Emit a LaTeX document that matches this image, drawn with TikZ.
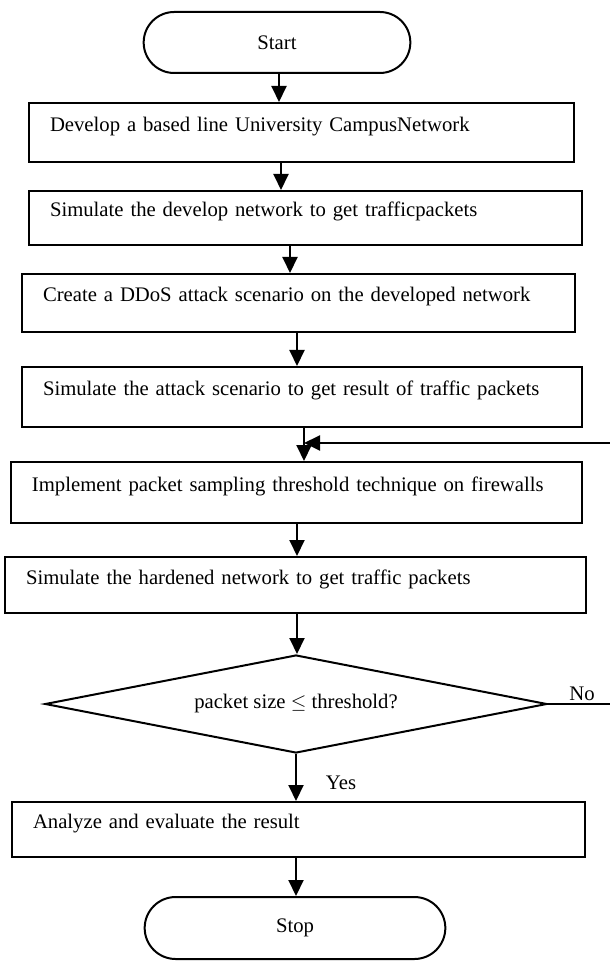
\documentclass[tikz,border=0pt]{standalone}
\usepackage{fontspec}
\setmainfont{Liberation Serif}
\usetikzlibrary{shapes.geometric,shapes.misc,arrows.meta}

\tikzset{
  every node/.style={font=\fontsize{10.35}{12.4}\selectfont},
  termbox/.style={draw,line width=1pt,rounded rectangle},
  procbox/.style={draw,line width=1pt,rectangle,align=left,inner xsep=10.5pt,text height=8pt,text depth=9pt},
  testbox/.style={draw,line width=1pt,diamond,inner sep=0pt,aspect=5.12},
  flow/.style={line width=1pt,-{Triangle[width=7.5pt,length=8pt]}}
}

\begin{document}
\begin{tikzpicture}[x=0.5pt,y=-0.5pt]
  \useasboundingbox (0,0) rectangle (609,961);
  \node[termbox,minimum width=140pt,minimum height=30.5pt] (start) at (277,42.5) {Start};
  \node[procbox,text width=251.5pt,minimum height=29.5pt] (b1) at (301.5,132.5) {Develop a based line University CampusNetwork};
  \node[procbox,text width=255.5pt,minimum height=27pt] (b2) at (305.5,218) {Simulate the develop network to get trafficpackets};
  \node[procbox,text width=255.5pt,minimum height=29pt] (b3) at (298.5,303) {Create a DDoS attack scenario on the developed network};
  \node[procbox,text width=259pt,minimum height=30pt] (b4) at (302,397) {Simulate the attack scenario to get result of traffic packets};
  \node[procbox,text width=264.5pt,minimum height=30.5pt] (b5) at (296.5,492.5) {Implement packet sampling threshold technique on firewalls};
  \node[procbox,text width=269.5pt,minimum height=28pt] (b6) at (295.5,585) {Simulate the hardened network to get traffic packets};
  \node[testbox,minimum width=251pt,minimum height=49pt] (dia) at (296,704) {packet size $\leq$ threshold?};
  \node (no) at (582,694) {No};
  \node (yes) at (341,783) {Yes};
  \node[procbox,text width=265.5pt,minimum height=27.5pt] (b7) at (298.5,829.5) {Analyze and evaluate the result};
  \node[termbox,minimum width=157pt,minimum height=31pt] (stop) at (295,928) {Stop};

  \foreach \x [count=\i] in {279,281,290,297,304,297,297,296,296}
    \coordinate (k\i) at (\x,0);
  \foreach \a/\b/\k in {start/b1/k1,b1/b2/k2,b2/b3/k3,b3/b4/k4,b4/b5/k5,b5/b6/k6,b6/dia/k7,dia/b7/k8,b7/stop/k9}
    \draw[flow] (\a.south -| \k) -- (\b.north -| \k);

  % back to the sampling step
  \coordinate (back) at (620,443);
  \draw[flow] (dia.east) -| (back) -- (back -| k5);
\end{tikzpicture}
\end{document}
